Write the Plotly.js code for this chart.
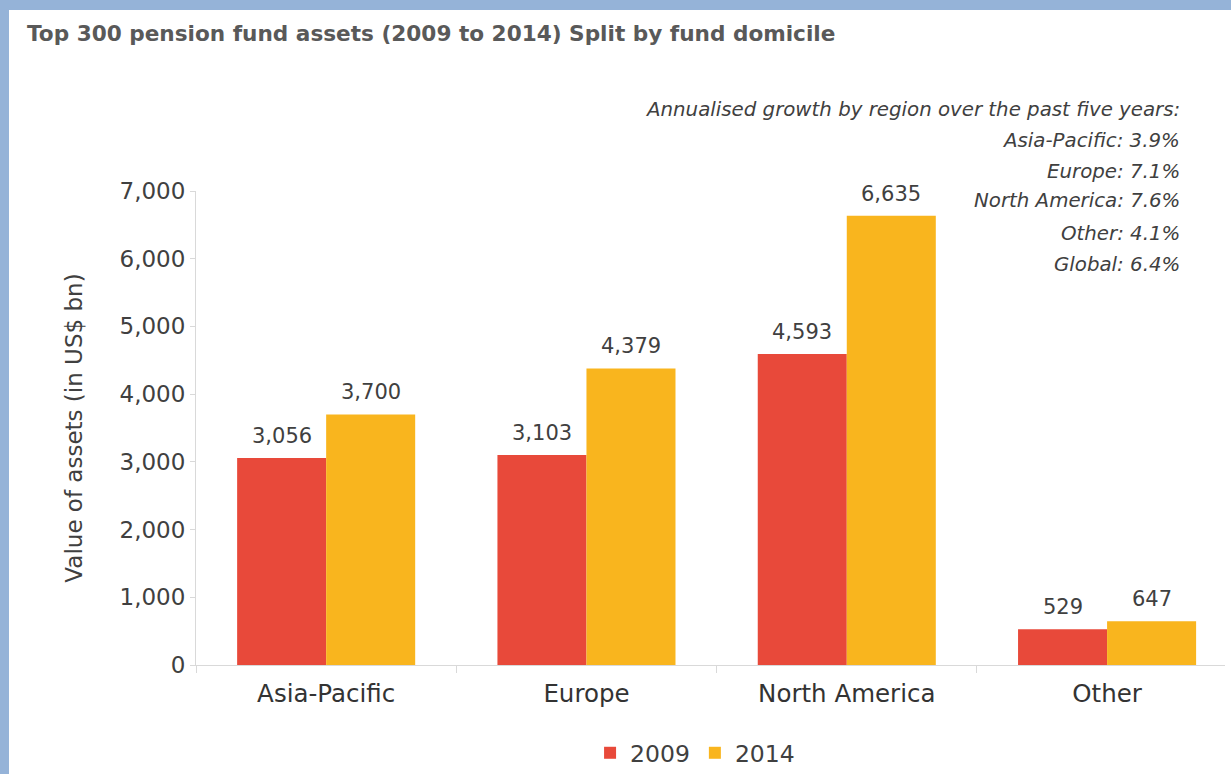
<!DOCTYPE html>
<html>
<head>
<meta charset="utf-8">
<script src="https://cdn.plot.ly/plotly-3.0.1.min.js"></script>
<style>
  html, body { margin: 0; padding: 0; background: #ffffff; }
  #frame { width: 1222px; height: 764px; border-top: 10px solid #95B3D8; border-left: 9px solid #95B3D8; }
  #chart { width: 1222px; height: 764px; }
</style>
</head>
<body>
<div id="frame"><div id="chart"></div></div>
<script>
// ---- data ----
const categories = ["Asia-Pacific", "Europe", "North America", "Other"];
const years = ["2009", "2014"];
const values2009 = [3056, 3103, 4593, 529];
const values2014 = [3700, 4379, 6635, 647];
const growthLines = [
  "Annualised growth by region over the past five years:",
  "Asia-Pacific: 3.9%",
  "Europe: 7.1%",
  "North America: 7.6%",
  "Other: 4.1%",
  "Global: 6.4%"
];
const yTickVals = [0, 1000, 2000, 3000, 4000, 5000, 6000, 7000];
const yTickText = ["0", "1,000", "2,000", "3,000", "4,000", "5,000", "6,000", "7,000"];

// ---- style ----
const FONT = "DejaVu Sans, Arial, sans-serif";
const colors = ["#E8493A", "#F9B51E"];
const bargap = 0.316;
const OX = 9, OY = 10;          // frame border offsets
const W = 1222, H = 764;
const M = {l: 187, r: 6, t: 181, b: 109, autoexpand: false};
const plotW = W - M.l - M.r, plotH = H - M.t - M.b;
// helpers to place free text by page pixel position
const px = x => (x - OX - M.l) / plotW;
const py = y => (H - M.b - (y - OY)) / plotH;

const series = [values2009, values2014];
const traces = series.map((vals, k) => ({
  type: "bar",
  name: years[k],
  x: categories,
  y: vals,
  marker: {color: colors[k]},
  hoverinfo: "x+y+name"
}));

const annotations = [];
const half = (1 - bargap) / 4;
series.forEach((vals, k) => {
  vals.forEach((v, i) => {
    annotations.push({
      x: i + (k === 0 ? -half : half),
      y: v,
      xref: "x", yref: "y",
      text: v.toLocaleString("en-US"),
      showarrow: false,
      xanchor: "center", yanchor: "bottom",
      yshift: 8,
      font: {family: FONT, size: 21, color: "#404040"}
    });
  });
});
const growthY = [110, 140, 171, 201, 233, 264];
growthLines.forEach((t, i) => {
  annotations.push({
    x: px(1182), y: py(growthY[i]),
    xref: "paper", yref: "paper",
    text: "<i>" + t + "</i>",
    showarrow: false,
    xanchor: "right", yanchor: "middle",
    font: {family: FONT, size: 19.8, color: "#404040"}
  });
});

const layout = {
  width: W, height: H,
  margin: M,
  paper_bgcolor: "#ffffff",
  plot_bgcolor: "#ffffff",
  bargap: bargap,
  bargroupgap: 0,
  barmode: "group",
  title: {
    text: "<b>Top 300 pension fund assets (2009 to 2014) Split by fund domicile</b>",
    x: 18 / W, xanchor: "left", xref: "container",
    y: 1 - 23 / H, yanchor: "middle", yref: "container",
    font: {family: FONT, size: 21.6, color: "#595959"}
  },
  xaxis: {
    range: [-0.5, 3.453],
    automargin: false,
    showline: true, linecolor: "#d9d9d9", linewidth: 1,
    ticks: "outside", tickson: "boundaries", ticklen: 7, tickcolor: "#d9d9d9",
    showgrid: false, zeroline: false,
    tickfont: {family: FONT, size: 24.5, color: "#333333"},
    ticklabelstandoff: 7,
    fixedrange: true
  },
  yaxis: {
    range: [0, 7000],
    automargin: false,
    tickvals: yTickVals, ticktext: yTickText,
    showline: true, linecolor: "#d9d9d9", linewidth: 1,
    ticks: "outside", ticklen: 5, tickcolor: "#d9d9d9",
    showgrid: false, zeroline: false,
    tickfont: {family: FONT, size: 23, color: "#404040"},
    title: {text: "Value of assets (in US$ bn)", standoff: 30,
            font: {family: FONT, size: 23, color: "#404040"}},
    fixedrange: true
  },
  showlegend: true,
  legend: {
    orientation: "h",
    x: 0.485, xanchor: "center",
    y: py(753), yanchor: "middle",
    font: {family: FONT, size: 23.5, color: "#404040"},
    itemwidth: 30,
    bgcolor: "rgba(0,0,0,0)"
  },
  annotations: annotations
};

Plotly.newPlot("chart", traces, layout, {displayModeBar: false, staticPlot: true});
</script>
</body>
</html>
